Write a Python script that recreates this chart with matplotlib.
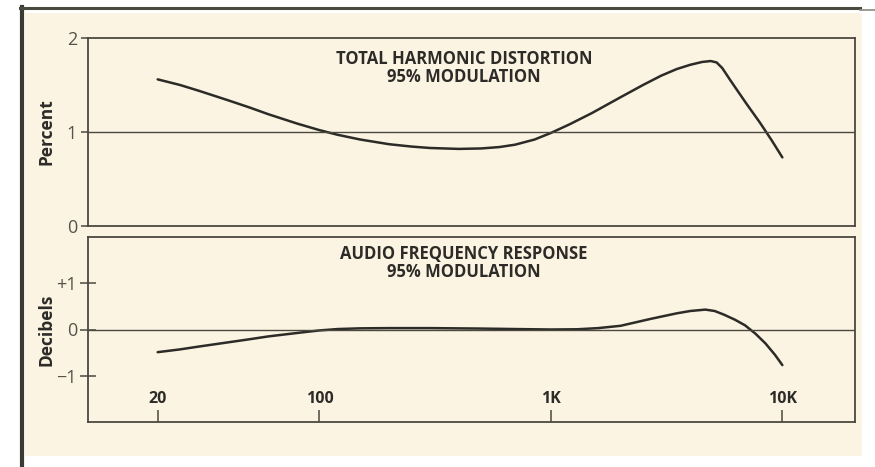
import numpy as np
import matplotlib.pyplot as plt
from matplotlib.patches import Rectangle
from matplotlib.lines import Line2D
from matplotlib.ticker import NullLocator

# total harmonic distortion, percent, at 95% modulation
thd_freq = [20, 25, 30, 40, 50, 60, 80, 100, 120, 150, 200, 250, 300, 400, 500, 600,
            700, 850, 1000, 1200, 1500, 2000, 2500, 3000, 3500, 4000, 4500, 4900, 5200,
            5500, 6000, 7000, 8000, 9000, 10000]
thd_pct = [1.56, 1.50, 1.44, 1.34, 1.26, 1.19, 1.09, 1.02, 0.97, 0.92, 0.87, 0.845, 0.83,
           0.82, 0.825, 0.84, 0.865, 0.92, 0.99, 1.08, 1.20, 1.37, 1.50, 1.60, 1.67, 1.715,
           1.745, 1.755, 1.74, 1.68, 1.54, 1.30, 1.10, 0.91, 0.73]

# audio frequency response, dB, at 95% modulation
resp_freq = [20, 25, 30, 40, 50, 60, 70, 85, 100, 120, 150, 200, 300, 500, 700, 1000,
             1300, 1600, 2000, 2700, 3500, 4000, 4650, 5100, 5600, 6250, 6900, 7650,
             8450, 9300, 10000]
resp_db = [-0.49, -0.43, -0.37, -0.28, -0.21, -0.15, -0.11, -0.06, -0.02, 0.01, 0.025,
           0.03, 0.03, 0.02, 0.01, 0.0, 0.005, 0.03, 0.08, 0.23, 0.35, 0.40, 0.43, 0.40,
           0.32, 0.21, 0.09, -0.09, -0.30, -0.55, -0.77]

freq_ticks = [20, 100, 1000, 10000]
freq_labels = ['20', '100', '1K', '10K']

cream = '#fcf4e3'
ink = '#2c2b27'
box = '#4a4940'
font = 'Open Sans'

fig = plt.figure(figsize=(8.75, 4.67), dpi=100)
fig.patch.set_facecolor('white')

# page background and dark frame edges
fig.add_artist(Rectangle((25 / 875, 1 - 456 / 467), (862 - 25) / 875, (456 - 13) / 467,
                         transform=fig.transFigure, facecolor=cream, edgecolor='none', zorder=0))
fig.add_artist(Line2D([22 / 875, 22 / 875], [0, 1 - 7 / 467], transform=fig.transFigure,
                      color='#3b3a32', lw=3))
fig.add_artist(Line2D([20 / 875, 860 / 875], [1 - 8 / 467, 1 - 8 / 467], transform=fig.transFigure,
                      color='#4a4a40', lw=2.2))
fig.add_artist(Line2D([860 / 875, 1], [1 - 10 / 467, 1 - 10 / 467], transform=fig.transFigure,
                      color='#8a8a80', lw=1.2))

ax1 = fig.add_axes([88 / 875, 1 - 226 / 467, (855 - 88) / 875, 188 / 467])
ax2 = fig.add_axes([88 / 875, 1 - 422 / 467, (855 - 88) / 875, 185 / 467])

for ax in (ax1, ax2):
    ax.set_facecolor('none')
    ax.set_xscale('log')
    ax.set_xlim(10, 20600)
    ax.xaxis.set_minor_locator(NullLocator())
    for s in ax.spines.values():
        s.set_color(box)
        s.set_linewidth(1.3)

# THD panel
ax1.plot(thd_freq, thd_pct, color=ink, lw=1.8, solid_capstyle='round', solid_joinstyle='round')
ax1.axhline(1, color=box, lw=1.0)
ax1.set_ylim(0, 2)
ax1.set_yticks([0, 1, 2], ['0', '1', '2'])
ax1.set_xticks([])
ax1.tick_params(axis='y', direction='out', length=5, width=1.1, color=box, pad=3,
                labelsize=13, labelcolor='#55544c')
ax1.set_ylabel('Percent', fontsize=12.5, fontweight='bold', color=ink, family=font)
ax1.yaxis.set_label_coords(-0.043, 0.5)
ax1.text(0.49, 0.935, 'TOTAL HARMONIC DISTORTION\n95% MODULATION', transform=ax1.transAxes,
         ha='center', va='top', fontsize=12, fontweight='bold', color=ink, family=font,
         linespacing=0.98)

# frequency response panel
ax2.plot(resp_freq, resp_db, color=ink, lw=1.8, solid_capstyle='round', solid_joinstyle='round')
ax2.axhline(0, color=box, lw=1.0)
ax2.set_ylim(-2, 2)
ax2.set_yticks([-1, 0, 1], ['\u22121', '0', '+1'])
ax2.tick_params(axis='y', direction='inout', length=12, width=1.1, color=box, pad=2,
                labelsize=13, labelcolor='#55544c')
ax2.set_xticks(freq_ticks, freq_labels)
ax2.tick_params(axis='x', direction='in', length=9, width=1.1, color=box, pad=-22,
                labelsize=11.5, labelcolor=ink)
for lbl in ax2.get_xticklabels():
    lbl.set_fontweight('bold')
    lbl.set_family(font)
ax2.set_ylabel('Decibels', fontsize=12.5, fontweight='bold', color=ink, family=font)
ax2.yaxis.set_label_coords(-0.043, 0.5)
ax2.text(0.49, 0.955, 'AUDIO FREQUENCY RESPONSE\n95% MODULATION', transform=ax2.transAxes,
         ha='center', va='top', fontsize=12, fontweight='bold', color=ink, family=font,
         linespacing=0.98)

for ax in (ax1, ax2):
    for lbl in ax.get_yticklabels():
        lbl.set_family(font)

fig.savefig('out.png', dpi=100, facecolor=fig.get_facecolor())
